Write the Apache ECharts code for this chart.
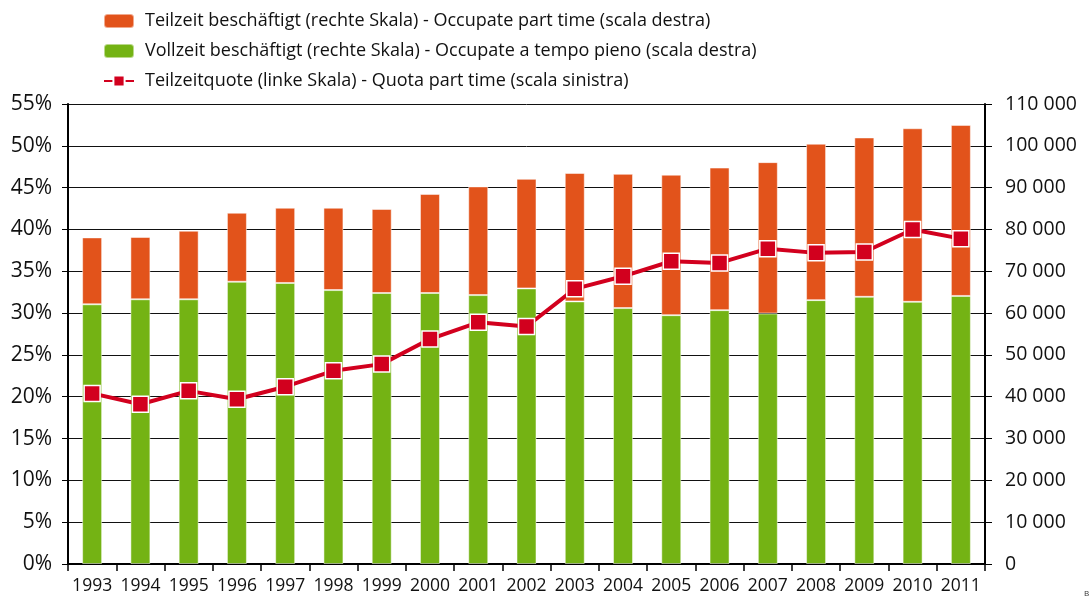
<!DOCTYPE html>
<html>
<head>
<meta charset="utf-8">
<script src="https://cdn.jsdelivr.net/npm/echarts@6/dist/echarts.min.js"></script>
<style>
  html, body { margin: 0; padding: 0; background: #fff; }
  #chart { width: 1091px; height: 603px; }
</style>
</head>
<body>
<div id="chart"></div>
<script>
// data
var years = ["1993", "1994", "1995", "1996", "1997", "1998", "1999", "2000", "2001", "2002",
  "2003", "2004", "2005", "2006", "2007", "2008", "2009", "2010", "2011"];
var vollzeit = [62100, 63300, 63300, 67500, 67200, 65500, 64800, 64800, 64300, 65900,
  62800, 61200, 59500, 60700, 59900, 63100, 63900, 62700, 64100];
var teilzeit = [16000, 14900, 16400, 16500, 18000, 19700, 20100, 23700, 26000, 26200,
  30700, 32100, 33600, 34100, 36200, 37400, 38100, 41500, 40900];
var quote = [20.4, 19.1, 20.7, 19.7, 21.2, 23.1, 23.9, 26.9, 28.9, 28.4,
  32.9, 34.4, 36.2, 36.0, 37.7, 37.2, 37.3, 40.0, 38.9];

var nameTeil = "Teilzeit beschäftigt (rechte Skala) - Occupate part time (scala destra)";
var nameVoll = "Vollzeit beschäftigt (rechte Skala) - Occupate a tempo pieno (scala destra)";
var nameQuote = "Teilzeitquote (linke Skala) - Quota part time (scala sinistra)";

var font = "Open Sans";

var chart = echarts.init(document.getElementById("chart"));

var option = {
  animation: false,
  textStyle: { fontFamily: font },
  legend: {
    orient: "vertical",
    left: 98,
    top: 4,
    itemWidth: 30,
    itemHeight: 14,
    itemGap: 6,
    data: [nameTeil, nameVoll, nameQuote],
    textStyle: { fontSize: 18, color: "#111", fontFamily: font, lineHeight: 24, padding: [0, 0, 0, 6] }
  },
  grid: { left: 68, right: 106, top: 104, bottom: 39, containLabel: false },
  xAxis: {
    type: "category",
    data: years,
    axisLine: { lineStyle: { color: "#000", width: 2 } },
    axisTick: { show: true, length: 7, lineStyle: { color: "#000", width: 1.5 } },
    axisLabel: { fontSize: 17.5, color: "#111", margin: 13, interval: 0, fontFamily: font }
  },
  yAxis: [
    {
      type: "value",
      min: 0,
      max: 55,
      interval: 5,
      position: "left",
      axisLine: { show: true, lineStyle: { color: "#000", width: 2 } },
      axisTick: { show: true, length: 6, lineStyle: { color: "#000" } },
      axisLabel: { fontSize: 21, color: "#111", margin: 16, formatter: "{value}%", fontFamily: font },
      splitLine: { show: true, lineStyle: { color: "#111", width: 1 } }
    },
    {
      type: "value",
      min: 0,
      max: 110000,
      interval: 10000,
      position: "right",
      axisLine: { show: true, lineStyle: { color: "#000", width: 2 } },
      axisTick: { show: true, length: 7, lineStyle: { color: "#000" } },
      axisLabel: {
        fontSize: 19.5, color: "#111", margin: 20, fontFamily: font,
        formatter: function (v) {
          return String(v).replace(/\B(?=(\d{3})+(?!\d))/g, " ");
        }
      },
      splitLine: { show: false }
    }
  ],
  series: [
    {
      name: nameVoll,
      type: "bar",
      stack: "beschaeftigt",
      yAxisIndex: 1,
      data: vollzeit,
      barWidth: 20,
      itemStyle: { color: "#74b314", borderColor: "rgba(255,255,255,0.5)", borderWidth: 1 }
    },
    {
      name: nameTeil,
      type: "bar",
      stack: "beschaeftigt",
      yAxisIndex: 1,
      data: teilzeit,
      barWidth: 20,
      itemStyle: { color: "#e2531b", borderColor: "rgba(255,255,255,0.5)", borderWidth: 1 }
    },
    {
      name: nameQuote,
      type: "line",
      yAxisIndex: 0,
      data: quote,
      symbol: "rect",
      symbolSize: 16,
      z: 5,
      lineStyle: { color: "#d2001e", width: 4 },
      itemStyle: { color: "#d2001e", borderColor: "#fff", borderWidth: 1.5 }
    }
  ],
  graphic: [
    {
      type: "text",
      left: 1084,
      top: 590,
      style: { text: "B", fontSize: 8, fill: "#333", fontFamily: font }
    }
  ]
};

chart.setOption(option);
</script>
</body>
</html>
